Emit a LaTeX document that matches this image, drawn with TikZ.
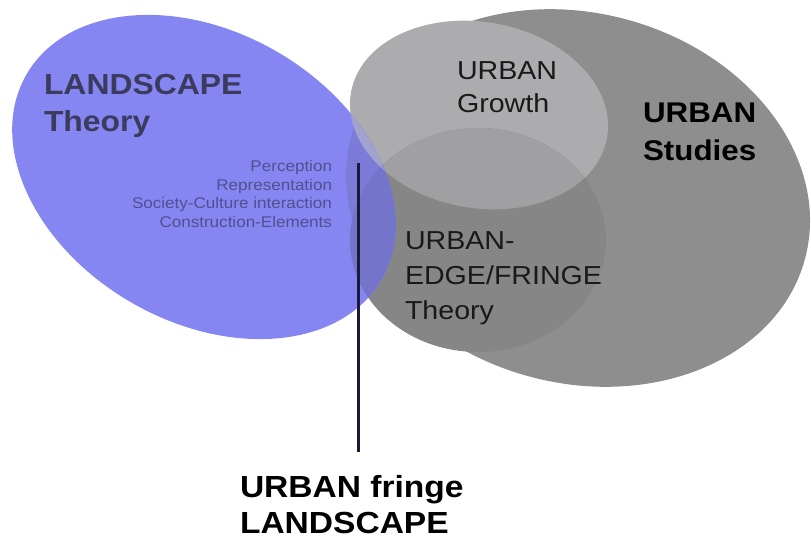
\documentclass[tikz,border=0pt]{standalone}
\usepackage{fontspec}
\setmainfont{Liberation Sans}
\definecolor{blueC}{HTML}{8686F2}
\definecolor{gbig}{HTML}{8E8E8E}
\definecolor{ggrow}{HTML}{ACACAF}
\definecolor{gedge}{HTML}{868686}
\definecolor{gboth}{HTML}{A0A0A2}
\definecolor{bbig}{HTML}{7C7CD8}
\definecolor{bgrow}{HTML}{A2A2CF}
\definecolor{bedge}{HTML}{7474CA}
\definecolor{bboth}{HTML}{9797C9}
\definecolor{landtxt}{HTML}{3B3B5E}
\definecolor{listtxt}{HTML}{50508E}
\definecolor{linecol}{HTML}{1A1A3A}
\newcommand\sx[1]{\scalebox{1.1}[1]{#1}}
\tikzset{
  lbl/.style={inner sep=0pt, outer sep=0pt, align=left, anchor=north west},
  bigrot/.style={rotate around={-15:(578,198)}},
  growrot/.style={rotate around={-10:(479,115)}},
  bluerot/.style={rotate around={-30:(204,177)}},
}
\begin{document}
\begin{tikzpicture}[x=1pt,y=-1pt]
\useasboundingbox (0,0) rectangle (811,540);
% gray shapes
\fill[gbig, bigrot] (578,198) ellipse [x radius=235, y radius=185];
\fill[ggrow, growrot] (479,115) ellipse [x radius=130, y radius=93];
\fill[gedge] (478,240) ellipse [x radius=128, y radius=112];
\begin{scope}
  \clip[growrot] (479,115) ellipse [x radius=130, y radius=93];
  \fill[gboth] (478,240) ellipse [x radius=128, y radius=112];
\end{scope}
% blue ellipse and its overlaps
\fill[blueC, bluerot] (204,177) ellipse [x radius=205, y radius=145];
\begin{scope}
  \clip[bluerot] (204,177) ellipse [x radius=205, y radius=145];
  \fill[bbig, bigrot] (578,198) ellipse [x radius=235, y radius=185];
  \fill[bgrow, growrot] (479,115) ellipse [x radius=130, y radius=93];
  \fill[bedge] (478,240) ellipse [x radius=128, y radius=112];
  \begin{scope}
    \clip[growrot] (479,115) ellipse [x radius=130, y radius=93];
    \fill[bboth] (478,240) ellipse [x radius=128, y radius=112];
  \end{scope}
\end{scope}
% texts
\node[lbl, text=landtxt, font={\bfseries\fontsize{29}{37}\selectfont}] (land) at (44,74) {\sx{LANDSCAPE}\\\sx{Theory}};
\node[lbl, anchor=north east, align=right, text=listtxt, font={\fontsize{15.5}{18.5}\selectfont}] (list) at (332,160.5)
  {\sx{Perception}\\\sx{Representation}\\\sx{Society-Culture interaction}\\\sx{Construction-Elements}};
\node[lbl, text=black!90, font={\fontsize{26}{33}\selectfont}] (growth) at (457,61.5) {\sx{URBAN}\\\sx{Growth}};
\node[lbl, text=black, font={\bfseries\fontsize{28.5}{38}\selectfont}] (studies) at (643,103) {\sx{URBAN}\\\sx{Studies}};
\node[lbl, text=black!90, font={\fontsize{26}{35}\selectfont}] (edge) at (405,231.5) {\sx{URBAN-}\\\sx{EDGE/FRINGE}\\\sx{Theory}};
\node[lbl, text=black, font={\bfseries\fontsize{30.5}{36}\selectfont}] (fringe) at (240,475) {\sx{URBAN fringe}\\\sx{LANDSCAPE}};
% pointer line
\coordinate (ltop) at (358,163);
\coordinate (lbot) at (358,452);
\draw[linecol, line width=3pt] (ltop) -- (lbot);
\end{tikzpicture}
\end{document}
